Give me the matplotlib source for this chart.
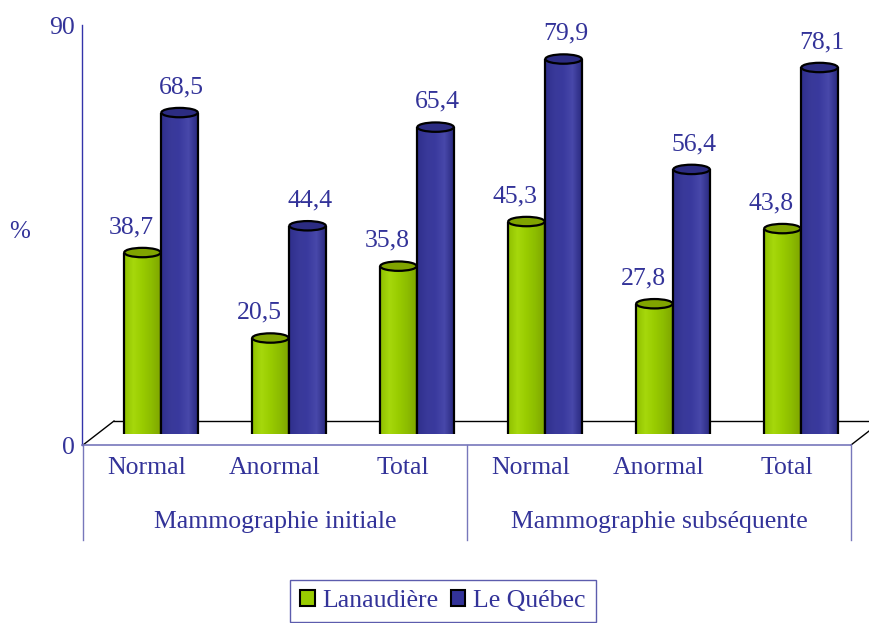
import numpy as np
import matplotlib
matplotlib.use('Agg')
import matplotlib.pyplot as plt
from matplotlib.patches import Ellipse, Rectangle
from matplotlib.colors import LinearSegmentedColormap

# ---------------- data ----------------
categories = ['Normal', 'Anormal', 'Total', 'Normal', 'Anormal', 'Total']
groups = ['Mammographie initiale', 'Mammographie subséquente']
group_centers = [1, 4]
group_bounds = [-0.5, 2.5, 5.5]
series_names = ['Lanaudière', 'Le Québec']
lanaudiere = [38.7, 20.5, 35.8, 45.3, 27.8, 43.8]
quebec = [68.5, 44.4, 65.4, 79.9, 56.4, 78.1]
y_ticks = [0, 90]

# ---------------- style ----------------
TEXT = '#333399'
FONT = 'Liberation Serif'
FS = 18.5
plt.rcParams['font.family'] = [FONT, 'DejaVu Serif']

W, H = 870, 623
fig = plt.figure(figsize=(8.7, 6.23), dpi=100)


def fx(px):
    return px / W


def fy(py):
    return 1 - py / H


# background layer (3D floor outline) in pixel coordinates
bg = fig.add_axes([0, 0, 1, 1], zorder=0)
bg.set_xlim(0, W)
bg.set_ylim(H, 0)
bg.axis('off')
bg.plot([114, 890], [421, 421], color='black', lw=1.0)
bg.plot([83, 114], [445, 421], color='black', lw=1.0)
bg.plot([851, 882], [445, 421], color='black', lw=1.0)

# front axis (value axis + category labels)
front = fig.add_axes([fx(82), fy(445), fx(851) - fx(82), (445 - 25) / H], zorder=1)
front.patch.set_visible(False)
front.set_ylim(0, 90)
front.set_xlim(-0.508, 5.5)
for s in ['top', 'right']:
    front.spines[s].set_visible(False)
front.spines['left'].set_color('#3333aa')
front.spines['bottom'].set_color('#7777bb')
front.spines['left'].set_linewidth(1.0)
front.spines['bottom'].set_linewidth(1.2)
front.set_yticks(y_ticks)
front.set_yticklabels([str(t) for t in y_ticks])
front.set_xticks(range(len(categories)))
front.set_xticklabels(categories)
front.tick_params(axis='y', length=0, pad=5, labelsize=FS, labelcolor=TEXT)
front.tick_params(axis='x', length=0, pad=9, labelsize=FS, labelcolor=TEXT)

xt = front.get_xaxis_transform()
for b in group_bounds:
    front.plot([b, b], [0, -95 / 420], transform=xt, color='#7777bb',
               lw=1.0, clip_on=False)
for c, g in zip(group_centers, groups):
    front.text(c, -77 / 420, g, transform=xt, ha='center', va='center',
               fontsize=FS, color=TEXT)

fig.text(fx(20), fy(232), '%', ha='center', va='center', fontsize=18, color=TEXT)

# bar axes (cylinders)
ax = fig.add_axes([fx(97), fy(434.3), (865 - 97) / W, 422.7 / H], zorder=2)
ax.axis('off')

bw = 0.285
off = 0.145
eh = 2.0

green_cmap = LinearSegmentedColormap.from_list(
    'g', ['#8fc000', '#a6d80c', '#99cc00', '#8cbc00', '#7fa600'])
blue_cmap = LinearSegmentedColormap.from_list(
    'b', ['#2f2f8c', '#393999', '#3a3a9e', '#4848aa', '#2a2a80'])
grad = np.linspace(0, 1, 64).reshape(1, -1)


def cylinder(x, v, cmap, side, top, z, dx):
    x0, x1 = x - bw / 2, x + bw / 2
    ax.add_patch(Ellipse((x, 0), bw, eh, facecolor=side, edgecolor='black',
                         lw=1.6, zorder=z))
    ax.imshow(grad, extent=[x0, x1, 0, v], aspect='auto', cmap=cmap,
              interpolation='bilinear', zorder=z + 0.1)
    ax.plot([x0, x0], [0, v], color='black', lw=1.6, zorder=z + 0.2,
            solid_capstyle='butt')
    ax.plot([x1, x1], [0, v], color='black', lw=1.6, zorder=z + 0.2,
            solid_capstyle='butt')
    ax.add_patch(Ellipse((x, v), bw, eh, facecolor=top, edgecolor='black',
                         lw=1.6, zorder=z + 0.3))
    ax.annotate(f'{v:.1f}'.replace('.', ','), (x, v), xytext=(dx, 14),
                textcoords='offset points', ha='center', va='baseline',
                fontsize=FS, color=TEXT, zorder=10)


for i, (g, q) in enumerate(zip(lanaudiere, quebec)):
    cylinder(i - off, g, green_cmap, '#8cbc00', '#80a400', 2, -8)
    cylinder(i + off, q, blue_cmap, '#333399', '#2c2c82', 3, 1.5)

ax.set_xlim(-0.5, 5.5)
ax.set_ylim(0, 90)

# legend
handles = [Rectangle((0, 0), 1, 1, facecolor='#99cc00', edgecolor='black', lw=1.5),
           Rectangle((0, 0), 1, 1, facecolor='#333399', edgecolor='black', lw=1.5)]
leg = fig.legend(handles, series_names, loc='center',
                 bbox_to_anchor=(fx(443), fy(601)), ncol=2, frameon=True,
                 fancybox=False, edgecolor=TEXT, handlelength=0.55,
                 handleheight=0.55, handletextpad=0.3, columnspacing=0.5,
                 borderpad=0.4, fontsize=FS, labelcolor=TEXT)
leg.get_frame().set_linewidth(1.0)

fig.savefig('out.png', dpi=100)
